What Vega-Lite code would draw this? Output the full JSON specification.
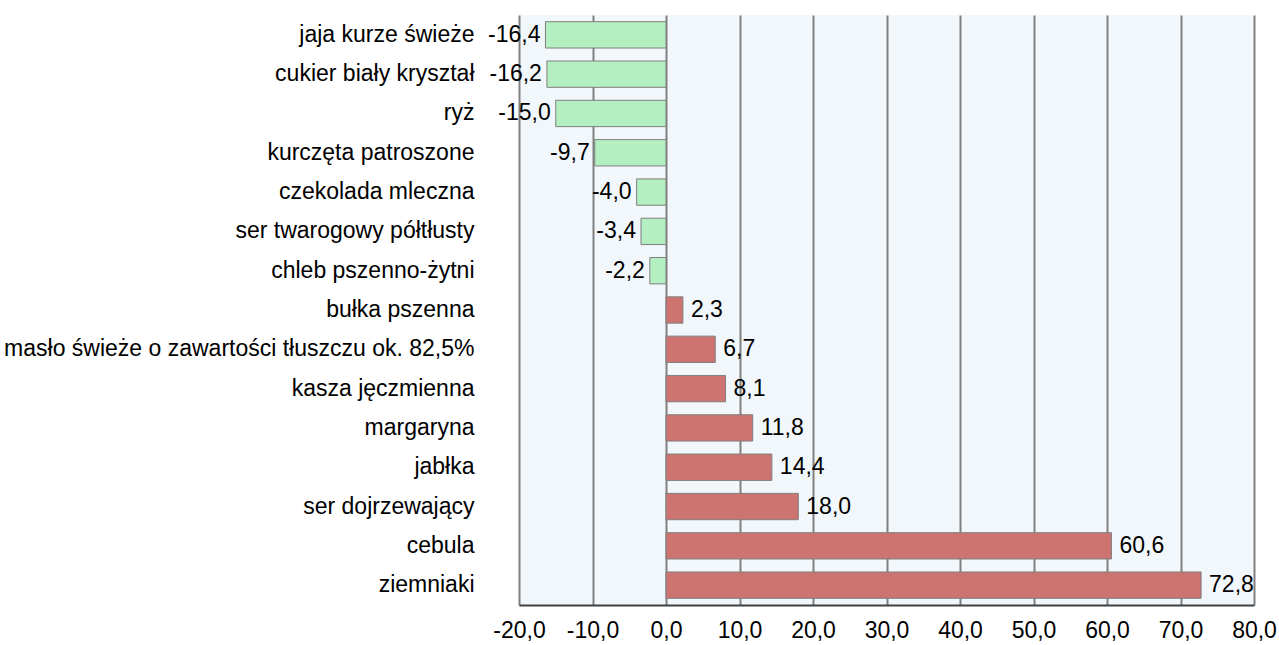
{
  "$schema": "https://vega.github.io/schema/vega-lite/v6.json",
  "autosize": {"type": "none"},
  "width": 735,
  "height": 590,
  "padding": {"left": 519, "top": 15, "right": 25, "bottom": 40},
  "background": "white",
  "config": {
    "locale": {"number": {"decimal": ",", "thousands": " ", "grouping": [3], "currency": ["", " zł"], "minus": "-"}},
    "view": {"fill": "#F2F7FB", "stroke": null},
    "font": "Liberation Sans"
  },
  "data": {
    "values": [
      {"produkt": "jaja kurze świeże", "zmiana": -16.4},
      {"produkt": "cukier biały kryształ", "zmiana": -16.2},
      {"produkt": "ryż", "zmiana": -15.0},
      {"produkt": "kurczęta patroszone", "zmiana": -9.7},
      {"produkt": "czekolada mleczna", "zmiana": -4.0},
      {"produkt": "ser twarogowy półtłusty", "zmiana": -3.4},
      {"produkt": "chleb pszenno-żytni", "zmiana": -2.2},
      {"produkt": "bułka pszenna", "zmiana": 2.3},
      {"produkt": "masło świeże o zawartości tłuszczu ok. 82,5%", "zmiana": 6.7},
      {"produkt": "kasza jęczmienna", "zmiana": 8.1},
      {"produkt": "margaryna", "zmiana": 11.8},
      {"produkt": "jabłka", "zmiana": 14.4},
      {"produkt": "ser dojrzewający", "zmiana": 18.0},
      {"produkt": "cebula", "zmiana": 60.6},
      {"produkt": "ziemniaki", "zmiana": 72.8}
    ]
  },
  "encoding": {
    "y": {
      "field": "produkt", "type": "nominal", "sort": null,
      "scale": {"paddingInner": 0.33, "paddingOuter": 0.17},
      "axis": {
        "title": null, "ticks": false, "domain": false, "labelPadding": 45,
        "labelFontSize": 23, "labelColor": "#000000", "labelLimit": 520
      }
    }
  },
  "layer": [
    {
      "mark": {"type": "bar", "stroke": "#7F7F7F", "strokeWidth": 1},
      "encoding": {
        "x": {
          "field": "zmiana", "type": "quantitative",
          "scale": {"domain": [-20, 80], "nice": false, "zero": false},
          "axis": {
            "title": null, "format": ".1f", "values": [-20, -10, 0, 10, 20, 30, 40, 50, 60, 70, 80],
            "grid": true, "gridColor": "#808080", "gridWidth": 2, "gridOpacity": 1,
            "ticks": false, "domainColor": "#404040", "domainWidth": 2,
            "labelFontSize": 23, "labelColor": "#000000", "labelPadding": 14, "labelFlush": false
          }
        },
        "color": {
          "condition": {"test": "datum.zmiana < 0", "value": "#B3EFC0"},
          "value": "#CD7370"
        }
      }
    },
    {
      "mark": {"type": "rule", "color": "#404040", "strokeWidth": 2},
      "encoding": {"x": {"datum": 0, "type": "quantitative"}}
    },
    {
      "transform": [{"filter": "datum.zmiana < 0"}],
      "mark": {"type": "text", "align": "right", "dx": -5, "fontSize": 23, "color": "#000000"},
      "encoding": {
        "x": {"field": "zmiana", "type": "quantitative"},
        "text": {"field": "zmiana", "type": "quantitative", "format": ".1f"}
      }
    },
    {
      "transform": [{"filter": "datum.zmiana >= 0"}],
      "mark": {"type": "text", "align": "left", "dx": 8, "fontSize": 23, "color": "#000000"},
      "encoding": {
        "x": {"field": "zmiana", "type": "quantitative"},
        "text": {"field": "zmiana", "type": "quantitative", "format": ".1f"}
      }
    }
  ]
}
